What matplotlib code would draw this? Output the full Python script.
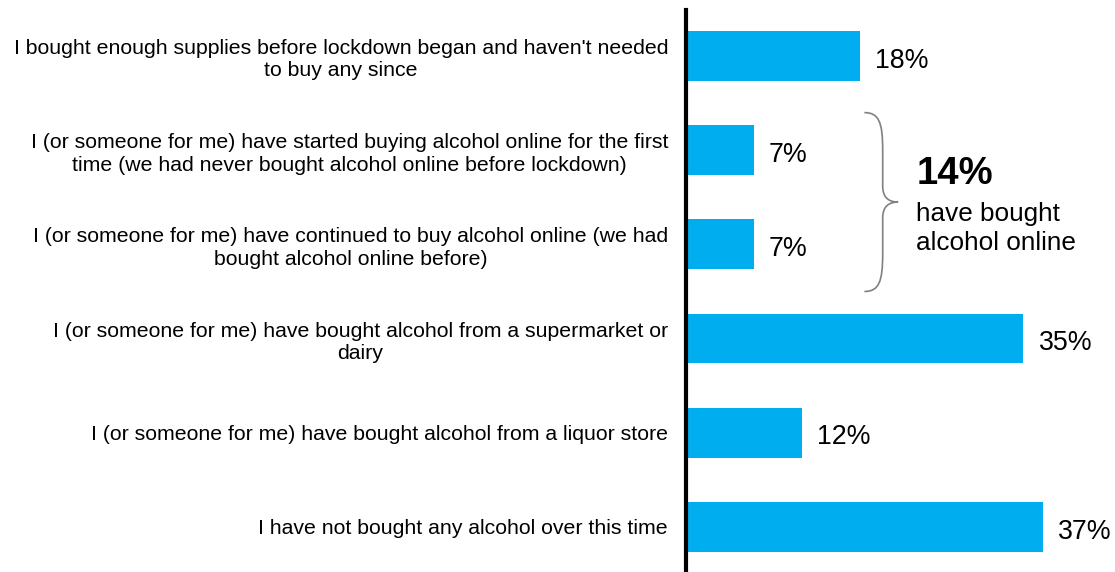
import matplotlib
matplotlib.use("Agg")
import matplotlib.pyplot as plt
from matplotlib.path import Path
from matplotlib.patches import PathPatch

plt.rcParams['font.family'] = ['Liberation Sans', 'DejaVu Sans']

categories = [
    "I bought enough supplies before lockdown began and haven't needed\nto buy any since",
    "I (or someone for me) have started buying alcohol online for the first\ntime (we had never bought alcohol online before lockdown)",
    "I (or someone for me) have continued to buy alcohol online (we had\nbought alcohol online before)",
    "I (or someone for me) have bought alcohol from a supermarket or\ndairy",
    "I (or someone for me) have bought alcohol from a liquor store",
    "I have not bought any alcohol over this time",
]
values = [18, 7, 7, 35, 12, 37]
online_total = 14

bar_color = '#00ADEE'

fig = plt.figure(figsize=(11.15, 5.72), dpi=100)
ax = fig.add_axes([0.6153, 0.0, 0.3847, 0.9825])

ypos = list(range(len(values)))
ax.barh(ypos, values, height=0.53, color=bar_color)

for y, v in zip(ypos, values):
    ax.text(v + 1.6, y + 0.05, f"{v}%", va='center', ha='left', fontsize=19.3)

ax.set_xlim(0, 44.5)
ax.set_ylim(5.48, -0.49)
ax.set_yticks(ypos)
ax.set_yticklabels(categories, fontsize=15.3, multialignment='center', linespacing=1.22)
ax.tick_params(axis='y', length=0, pad=13)
ax.set_xticks([])

for side in ['top', 'right', 'bottom']:
    ax.spines[side].set_visible(False)
ax.spines['left'].set_linewidth(3)
ax.spines['left'].set_color('black')

# curly brace grouping the two online rows
x0, x1, x2 = 18.5, 20.4, 22.0
top, bot = 0.6, 2.5
mid = (top + bot) / 2
verts = [
    (x0, top), (20.0, top), (x1, 0.7), (x1, 1.0),
    (x1, 1.38),
    (x1, 1.5), (21.0, mid), (x2, mid),
    (21.0, mid), (x1, 1.6), (x1, 1.72),
    (x1, 2.1),
    (x1, 2.4), (20.0, bot), (x0, bot),
]
codes = [Path.MOVETO, Path.CURVE4, Path.CURVE4, Path.CURVE4,
         Path.LINETO,
         Path.CURVE4, Path.CURVE4, Path.CURVE4,
         Path.CURVE4, Path.CURVE4, Path.CURVE4,
         Path.LINETO,
         Path.CURVE4, Path.CURVE4, Path.CURVE4]
ax.add_patch(PathPatch(Path(verts, codes), fill=False, edgecolor='#808080', lw=1.2))

ax.text(23.9, 1.25, f"{online_total}%", fontsize=27.5, fontweight='bold', va='center', ha='left')
ax.text(23.9, 1.83, "have bought\nalcohol online", fontsize=18.8, va='center', ha='left',
        linespacing=1.3)

fig.savefig("out.png", dpi=100)
